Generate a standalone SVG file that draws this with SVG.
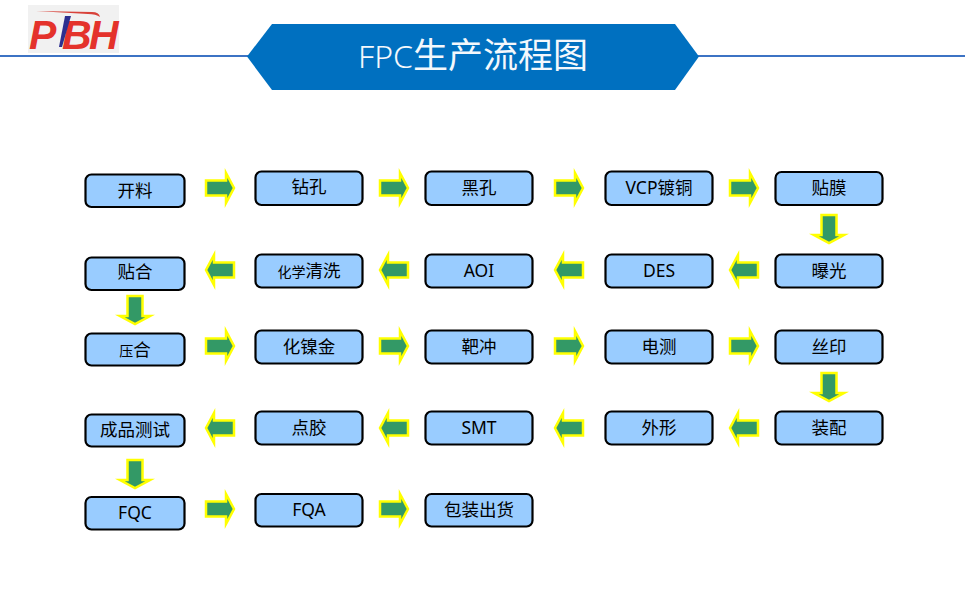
<svg xmlns="http://www.w3.org/2000/svg" width="965" height="616" viewBox="0 0 965 616">
<style>
.b{fill:#99ccff;stroke:#000;stroke-width:2.2}
.t{font-family:"Noto Sans","Noto Sans CJK SC",sans-serif;font-size:17.500px;fill:#000;text-anchor:middle}
.a{fill:#339966;stroke:#ffff00;stroke-width:2.5;stroke-miterlimit:12}
.k{font-family:"Noto Sans CJK SC",sans-serif;fill:#f4f8fc}
.l{font-family:"Liberation Sans",sans-serif;font-size:41px;font-weight:700;font-style:italic;fill:#e4322b}
</style>
<defs>
<polygon id="ar" class="a" points="-14,-7.500 6,-7.500 6,-15 14,0 6,15 6,7.500 -14,7.500"/>
</defs>
<rect width="965" height="616" fill="#fff"/>
<g id="logo">
<rect x="28" y="5" width="91" height="48" fill="#f1f1f1"/>
<text class="l" x="29 62 89" y="49">PBH</text>
<polygon points="65,16 71,16 62,47 59,47" fill="#2d2f8f"/>
<path d="M36 11 L92 12 Q99 12 100 17 Q96 14 88 14 Z" fill="#d8423a"/>
</g>
<g id="title">
<line x1="0" y1="56" x2="965" y2="56" stroke="#3c73c4" stroke-width="2"/>
<polygon points="272,24 675,24 699,56.500 675,90 272,90 247,56.500" fill="#0070c0"/>
<text class="k" x="358" y="68" font-size="35"><tspan font-weight="300" font-size="32" font-family="Noto Sans">FPC</tspan><tspan font-weight="400">生产流程图</tspan></text>
</g>
<g id="connectors">
<use href="#ar" x="220" y="188"/><use href="#ar" x="394" y="188"/><use href="#ar" x="569" y="188"/><use href="#ar" x="744" y="188"/>
<use href="#ar" transform="translate(829 229) rotate(90)"/>
<use href="#ar" transform="translate(744 270) rotate(180)"/><use href="#ar" transform="translate(569 270) rotate(180)"/><use href="#ar" transform="translate(394 270) rotate(180)"/><use href="#ar" transform="translate(220 270) rotate(180)"/>
<use href="#ar" transform="translate(135 310) rotate(90)"/>
<use href="#ar" x="220" y="346"/><use href="#ar" x="394" y="346"/><use href="#ar" x="569" y="346"/><use href="#ar" x="744" y="346"/>
<use href="#ar" transform="translate(829 387) rotate(90)"/>
<use href="#ar" transform="translate(744 428) rotate(180)"/><use href="#ar" transform="translate(569 428) rotate(180)"/><use href="#ar" transform="translate(394 428) rotate(180)"/><use href="#ar" transform="translate(220 428) rotate(180)"/>
<use href="#ar" transform="translate(135 474) rotate(90)"/>
<use href="#ar" x="220" y="509"/><use href="#ar" x="394" y="509"/>
</g>
<g id="n1"><rect class="b" x="85.500" y="174.500" width="99" height="32.500" rx="6"/><text class="t" x="135" y="197">开料</text></g>
<g id="n2"><rect class="b" x="255.500" y="171.500" width="107" height="33.500" rx="6"/><text class="t" x="309" y="193">钻孔</text></g>
<g id="n3"><rect class="b" x="425.500" y="171.500" width="107" height="33.500" rx="6"/><text class="t" x="479" y="194">黑孔</text></g>
<g id="n4"><rect class="b" x="605.500" y="171.500" width="107" height="33.500" rx="6"/><text class="t" x="659" y="194">VCP镀铜</text></g>
<g id="n5"><rect class="b" x="775.500" y="172" width="107" height="33" rx="6"/><text class="t" x="829" y="194">贴膜</text></g>
<g id="n6"><rect class="b" x="775.500" y="254.500" width="107" height="33" rx="6"/><text class="t" x="829" y="277">曝光</text></g>
<g id="n7"><rect class="b" x="605.500" y="254.500" width="107" height="33" rx="6"/><text class="t" x="659" y="277">DES</text></g>
<g id="n8"><rect class="b" x="425.500" y="254.500" width="107" height="33" rx="6"/><text class="t" x="479" y="277">AOI</text></g>
<g id="n9"><rect class="b" x="255.500" y="254.500" width="107" height="33" rx="6"/><text class="t" x="309" y="277"><tspan font-size="14">化学</tspan>清洗</text></g>
<g id="n10"><rect class="b" x="85.500" y="257.500" width="99" height="32.500" rx="6"/><text class="t" x="135" y="278">贴合</text></g>
<g id="n11"><rect class="b" x="85.500" y="333.500" width="99" height="32" rx="6"/><text class="t" x="135" y="356"><tspan font-size="14">压</tspan>合</text></g>
<g id="n12"><rect class="b" x="255.500" y="330.500" width="107" height="33" rx="6"/><text class="t" x="309" y="353">化镍金</text></g>
<g id="n13"><rect class="b" x="425.500" y="330.500" width="107" height="33" rx="6"/><text class="t" x="479" y="353">靶冲</text></g>
<g id="n14"><rect class="b" x="605.500" y="330.500" width="107" height="33" rx="6"/><text class="t" x="659" y="353">电测</text></g>
<g id="n15"><rect class="b" x="775.500" y="330.500" width="107" height="33" rx="6"/><text class="t" x="829" y="353">丝印</text></g>
<g id="n16"><rect class="b" x="775.500" y="411.500" width="107" height="33" rx="6"/><text class="t" x="829" y="434">装配</text></g>
<g id="n17"><rect class="b" x="605.500" y="411.500" width="107" height="33" rx="6"/><text class="t" x="659" y="434">外形</text></g>
<g id="n18"><rect class="b" x="425.500" y="411.500" width="107" height="33" rx="6"/><text class="t" x="479" y="434">SMT</text></g>
<g id="n19"><rect class="b" x="255.500" y="411.500" width="107" height="33" rx="6"/><text class="t" x="309" y="434">点胶</text></g>
<g id="n20"><rect class="b" x="85.500" y="414.500" width="99" height="32" rx="6"/><text class="t" x="135" y="436">成品测试</text></g>
<g id="n21"><rect class="b" x="85.500" y="497" width="99" height="32.500" rx="6"/><text class="t" x="135" y="519">FQC</text></g>
<g id="n22"><rect class="b" x="255.500" y="494" width="107" height="32.500" rx="6"/><text class="t" x="309" y="516">FQA</text></g>
<g id="n23"><rect class="b" x="425.500" y="494" width="107" height="32.500" rx="6"/><text class="t" x="479" y="516">包装出货</text></g>
</svg>
